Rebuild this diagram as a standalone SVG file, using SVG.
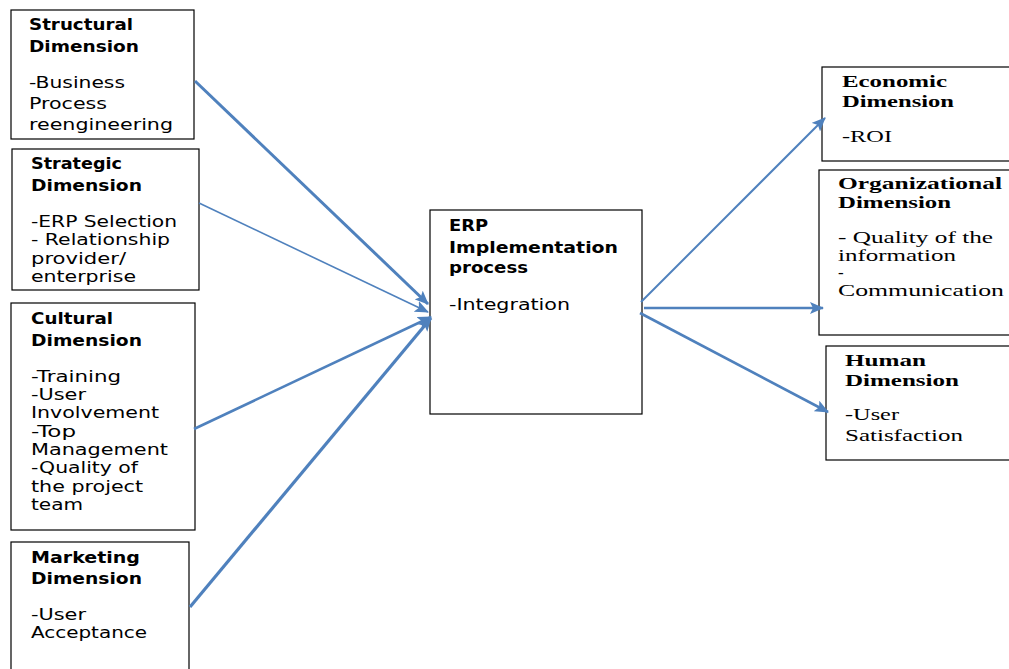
<svg xmlns="http://www.w3.org/2000/svg" width="1009" height="669" viewBox="0 0 1009 669">
<defs>
<style>
.box{fill:#fff;stroke:#000;stroke-width:1.2}
.s{font-family:"DejaVu Sans","Liberation Sans",sans-serif;font-size:16px;fill:#000}
.sb{font-family:"DejaVu Sans","Liberation Sans",sans-serif;font-size:16px;font-weight:bold;fill:#000}
.r{font-family:"Liberation Serif","Times New Roman",serif;font-size:17px;fill:#000}
.rb{font-family:"Liberation Serif","Times New Roman",serif;font-size:17px;font-weight:bold;fill:#000}
.c{stroke:#4F81BD;fill:none;marker-end:url(#ah)}
</style>
<marker id="ah" markerUnits="userSpaceOnUse" viewBox="0 0 14 12" refX="13" refY="6" markerWidth="14" markerHeight="12" orient="auto">
<path d="M0,0 L14,6 L0,12 L3,6 Z" fill="#4F81BD"/>
</marker>
</defs>
<rect width="1009" height="669" fill="#fff"/>
<g id="structural">
<rect class="box" x="11" y="10" width="183" height="129"/>
<text class="sb" x="29" y="30" textLength="104" lengthAdjust="spacingAndGlyphs">Structural</text>
<text class="sb" x="29" y="52" textLength="110" lengthAdjust="spacingAndGlyphs">Dimension</text>
<text class="s" x="29" y="88" textLength="96" lengthAdjust="spacingAndGlyphs">-Business</text>
<text class="s" x="29" y="109" textLength="78" lengthAdjust="spacingAndGlyphs">Process</text>
<text class="s" x="29" y="130" textLength="144" lengthAdjust="spacingAndGlyphs">reengineering</text>
</g>
<g id="strategic">
<rect class="box" x="12" y="149" width="187" height="141"/>
<text class="sb" x="31" y="169" textLength="91" lengthAdjust="spacingAndGlyphs">Strategic</text>
<text class="sb" x="31" y="191" textLength="111" lengthAdjust="spacingAndGlyphs">Dimension</text>
<text class="s" x="31" y="227" textLength="146" lengthAdjust="spacingAndGlyphs">-ERP Selection</text>
<text class="s" x="31" y="245" textLength="139" lengthAdjust="spacingAndGlyphs">- Relationship</text>
<text class="s" x="31" y="264" textLength="95" lengthAdjust="spacingAndGlyphs">provider/</text>
<text class="s" x="31" y="282" textLength="105" lengthAdjust="spacingAndGlyphs">enterprise</text>
</g>
<g id="cultural">
<rect class="box" x="11" y="303" width="184" height="227"/>
<text class="sb" x="31" y="324" textLength="82" lengthAdjust="spacingAndGlyphs">Cultural</text>
<text class="sb" x="31" y="346" textLength="111" lengthAdjust="spacingAndGlyphs">Dimension</text>
<text class="s" x="31" y="382" textLength="90" lengthAdjust="spacingAndGlyphs">-Training</text>
<text class="s" x="31" y="400" textLength="55" lengthAdjust="spacingAndGlyphs">-User</text>
<text class="s" x="31" y="418" textLength="128" lengthAdjust="spacingAndGlyphs">Involvement</text>
<text class="s" x="31" y="437" textLength="45" lengthAdjust="spacingAndGlyphs">-Top</text>
<text class="s" x="31" y="455" textLength="137" lengthAdjust="spacingAndGlyphs">Management</text>
<text class="s" x="31" y="473" textLength="107" lengthAdjust="spacingAndGlyphs">-Quality of</text>
<text class="s" x="31" y="492" textLength="112" lengthAdjust="spacingAndGlyphs">the project</text>
<text class="s" x="31" y="510" textLength="52" lengthAdjust="spacingAndGlyphs">team</text>
</g>
<g id="marketing">
<rect class="box" x="11" y="542" width="178" height="140"/>
<text class="sb" x="31" y="563" textLength="109" lengthAdjust="spacingAndGlyphs">Marketing</text>
<text class="sb" x="31" y="584" textLength="111" lengthAdjust="spacingAndGlyphs">Dimension</text>
<text class="s" x="31" y="620" textLength="55" lengthAdjust="spacingAndGlyphs">-User</text>
<text class="s" x="31" y="638" textLength="116" lengthAdjust="spacingAndGlyphs">Acceptance</text>
</g>
<g id="erp">
<rect class="box" x="430" y="210" width="212" height="204"/>
<text class="sb" x="449" y="231" textLength="39" lengthAdjust="spacingAndGlyphs">ERP</text>
<text class="sb" x="449" y="253" textLength="169" lengthAdjust="spacingAndGlyphs">Implementation</text>
<text class="sb" x="449" y="273" textLength="79" lengthAdjust="spacingAndGlyphs">process</text>
<text class="s" x="449" y="310" textLength="121" lengthAdjust="spacingAndGlyphs">-Integration</text>
</g>
<g id="economic">
<rect class="box" x="822" y="67" width="200" height="94"/>
<text class="rb" x="842" y="87" textLength="105" lengthAdjust="spacingAndGlyphs">Economic</text>
<text class="rb" x="842" y="107" textLength="112" lengthAdjust="spacingAndGlyphs">Dimension</text>
<text class="r" x="842" y="142" textLength="50" lengthAdjust="spacingAndGlyphs">-ROI</text>
</g>
<g id="organizational">
<rect class="box" x="819" y="170" width="200" height="165"/>
<text class="rb" x="838" y="189" textLength="164" lengthAdjust="spacingAndGlyphs">Organizational</text>
<text class="rb" x="838" y="208" textLength="113" lengthAdjust="spacingAndGlyphs">Dimension</text>
<text class="r" x="838" y="243" textLength="155" lengthAdjust="spacingAndGlyphs">- Quality of the</text>
<text class="r" x="838" y="261" textLength="118" lengthAdjust="spacingAndGlyphs">information</text>
<text class="r" x="838" y="278">-</text>
<text class="r" x="838" y="296" textLength="166" lengthAdjust="spacingAndGlyphs">Communication</text>
</g>
<g id="human">
<rect class="box" x="826" y="346" width="200" height="114"/>
<text class="rb" x="845" y="366" textLength="81" lengthAdjust="spacingAndGlyphs">Human</text>
<text class="rb" x="845" y="386" textLength="114" lengthAdjust="spacingAndGlyphs">Dimension</text>
<text class="r" x="845" y="420" textLength="54" lengthAdjust="spacingAndGlyphs">-User</text>
<text class="r" x="845" y="441" textLength="118" lengthAdjust="spacingAndGlyphs">Satisfaction</text>
</g>
<g id="connectors">
<line class="c" x1="195" y1="81" x2="428" y2="304" stroke-width="3"/>
<line class="c" x1="199" y1="203" x2="428" y2="312" stroke-width="1.6"/>
<line class="c" x1="194" y1="429" x2="431" y2="317" stroke-width="2.6"/>
<line class="c" x1="190" y1="607" x2="431" y2="318" stroke-width="3.2"/>
<line class="c" x1="641" y1="302" x2="825" y2="118" stroke-width="2"/>
<line class="c" x1="644" y1="308" x2="823" y2="308" stroke-width="2.6"/>
<line class="c" x1="640" y1="313" x2="828" y2="412" stroke-width="2.6"/>
</g>
</svg>
